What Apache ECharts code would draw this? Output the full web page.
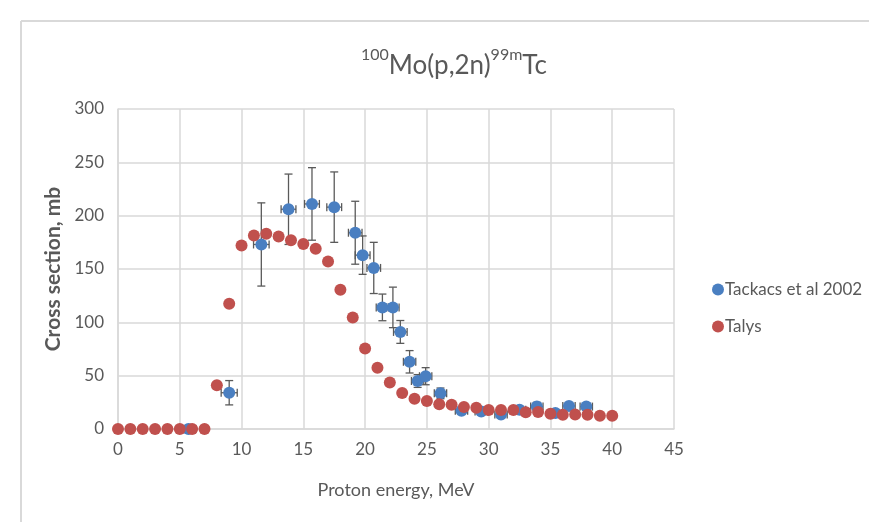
<!DOCTYPE html>
<html>
<head>
<meta charset="utf-8">
<script src="https://cdn.jsdelivr.net/npm/echarts@6/dist/echarts.min.js"></script>
<style>html,body{margin:0;padding:0;background:#fff;}#c{width:869px;height:522px;}</style>
</head>
<body>
<div id="c"></div>
<script>
// Tackacs et al 2002 (experimental)
var expEnergy = [5.7, 9.0, 11.6, 13.8, 15.7, 17.5, 19.2, 19.8, 20.7, 21.4, 22.25, 22.85, 23.6, 24.25, 24.9, 26.1, 27.8, 29.4, 31.0, 32.5, 33.9, 35.4, 36.5, 37.9];
var expCross  = [0, 34, 173, 206, 211, 208, 184, 163, 151, 114, 114, 91, 63, 45, 49.5, 33.4, 17.2, 16.3, 13.7, 18, 21, 15, 21.6, 21];
var expYErr   = [0, 11.4, 39, 33, 34, 33, 29.5, 18, 24, 12.5, 19, 10.7, 10.5, 6, 8, 5, 3, 3, 3, 3, 4, 3, 3, 3];
var expXErr   = [0.6, 0.65, 0.63, 0.6, 0.6, 0.6, 0.55, 0.6, 0.55, 0.5, 0.5, 0.55, 0.5, 0.5, 0.5, 0.5, 0.5, 0.5, 0.5, 0.5, 0.5, 0.5, 0.5, 0.5];
// Talys
var talysEnergy = [0,1,2,3,4,5,6,7,8,9,10,11,12,13,14,15,16,17,18,19,20,21,22,23,24,25,26,27,28,29,30,31,32,33,34,35,36,37,38,39,40];
var talysCross  = [0,0,0,0,0,0,0,0,41,117.5,172,181.5,183,180.5,177,173.4,169,157,130.5,104.5,75.5,57.5,43.5,33.7,28.4,26.2,23.1,22.8,20.6,20,17.8,17.8,17.8,15.6,15.9,14.4,13.4,13.7,13.4,12.5,12.5];
var xTicks = [0,5,10,15,20,25,30,35,40,45];
var yTicks = [0,50,100,150,200,250,300];

var FONT = 'Lato, "Open Sans", sans-serif';
var TXT = '#595959';

var expData = expEnergy.map(function(x,i){return [x, expCross[i]];});
var errData = expEnergy.map(function(x,i){return [x, expCross[i], expYErr[i], expXErr[i]];});
var talysData = talysEnergy.map(function(x,i){return [x, talysCross[i]];});

var chart = echarts.init(document.getElementById('c'));
chart.setOption({
  backgroundColor: '#fff',
  animation: false,
  title: {
    text: '{sup|100}{main|Mo(p,2n)}{sup|99m}{main|Tc}',
    left: 356,
    top: 42,
    textStyle: {
      fontWeight: 'normal',
      rich: {
        main: {fontFamily: FONT, fontSize: 26, fontWeight: 'normal', color: TXT, lineHeight: 32, verticalAlign: 'bottom'},
        sup: {fontFamily: FONT, fontSize: 16, fontWeight: 'normal', color: TXT, lineHeight: 32, verticalAlign: 'top'}
      }
    }
  },
  graphic: [
    {type: 'line', shape: {x1: 21, y1: 21, x2: 21, y2: 522}, style: {stroke: '#d9d9d9', lineWidth: 2}, silent: true},
    {type: 'line', shape: {x1: 21, y1: 21, x2: 869, y2: 21}, style: {stroke: '#d9d9d9', lineWidth: 2}, silent: true}
  ],
  legend: {
    orient: 'vertical',
    left: 707,
    top: 276,
    itemGap: 20,
    itemWidth: 12,
    itemHeight: 12,
    textStyle: {fontFamily: FONT, fontSize: 17, color: TXT, padding: [0,0,0,-4]},
    data: [{name: 'Tackacs et al 2002', icon: 'circle'}, {name: 'Talys', icon: 'circle'}]
  },
  grid: {left: 118, right: 195, top: 109, bottom: 93, containLabel: false},
  xAxis: {
    type: 'value', min: 0, max: 45, interval: 5,
    name: 'Proton energy, MeV', nameLocation: 'middle', nameGap: 52,
    nameTextStyle: {fontFamily: FONT, fontSize: 18, color: TXT},
    axisLine: {show: true, lineStyle: {color: '#d9d9d9', width: 1.5}},
    axisTick: {show: false},
    axisLabel: {fontFamily: FONT, fontSize: 17, color: TXT, margin: 12,
      formatter: function(v){return xTicks.indexOf(v) >= 0 ? String(v) : '';}},
    splitLine: {show: true, lineStyle: {color: '#d9d9d9', width: 1.5}}
  },
  yAxis: {
    type: 'value', min: 0, max: 300, interval: 50,
    name: 'Cross section, mb', nameLocation: 'middle', nameGap: 50, nameRotate: 90,
    nameTextStyle: {fontFamily: FONT, fontSize: 21, fontWeight: 'bold', color: TXT},
    axisLine: {show: true, lineStyle: {color: '#d9d9d9', width: 1.5}},
    axisTick: {show: false},
    axisLabel: {fontFamily: FONT, fontSize: 17, color: TXT, margin: 14,
      formatter: function(v){return yTicks.indexOf(v) >= 0 ? String(v) : '';}},
    splitLine: {show: true, lineStyle: {color: '#d9d9d9', width: 1.5}}
  },
  series: [
    {
      name: 'errbars', type: 'custom', silent: true, z: 2,
      data: errData,
      renderItem: function(params, api){
        var x = api.value(0), y = api.value(1), ey = api.value(2), ex = api.value(3);
        var c = api.coord([x, y]);
        var top = api.coord([x, y + ey]), bot = api.coord([x, y - ey]);
        var lft = api.coord([x - ex, y]), rgt = api.coord([x + ex, y]);
        var st = {stroke: '#5a5a5a', lineWidth: 1.3, fill: null};
        var cw = 4;
        var ch = [];
        if (ey > 0) {
          ch.push({type:'line', shape:{x1:c[0],y1:top[1],x2:c[0],y2:bot[1]}, style:st});
          ch.push({type:'line', shape:{x1:c[0]-cw,y1:top[1],x2:c[0]+cw,y2:top[1]}, style:st});
          ch.push({type:'line', shape:{x1:c[0]-cw,y1:bot[1],x2:c[0]+cw,y2:bot[1]}, style:st});
        }
        if (ex > 0) {
          ch.push({type:'line', shape:{x1:lft[0],y1:c[1],x2:rgt[0],y2:c[1]}, style:st});
          ch.push({type:'line', shape:{x1:lft[0],y1:c[1]-cw,x2:lft[0],y2:c[1]+cw}, style:st});
          ch.push({type:'line', shape:{x1:rgt[0],y1:c[1]-cw,x2:rgt[0],y2:c[1]+cw}, style:st});
        }
        return {type:'group', children: ch};
      }
    },
    {
      name: 'Tackacs et al 2002', type: 'scatter', z: 3,
      symbol: 'circle', symbolSize: 12,
      itemStyle: {color: '#4a7fc1', opacity: 1},
      data: expData
    },
    {
      name: 'Talys', type: 'scatter', z: 4,
      symbol: 'circle', symbolSize: 12,
      itemStyle: {color: '#c0504d', opacity: 1},
      data: talysData
    }
  ]
});
</script>
</body>
</html>
